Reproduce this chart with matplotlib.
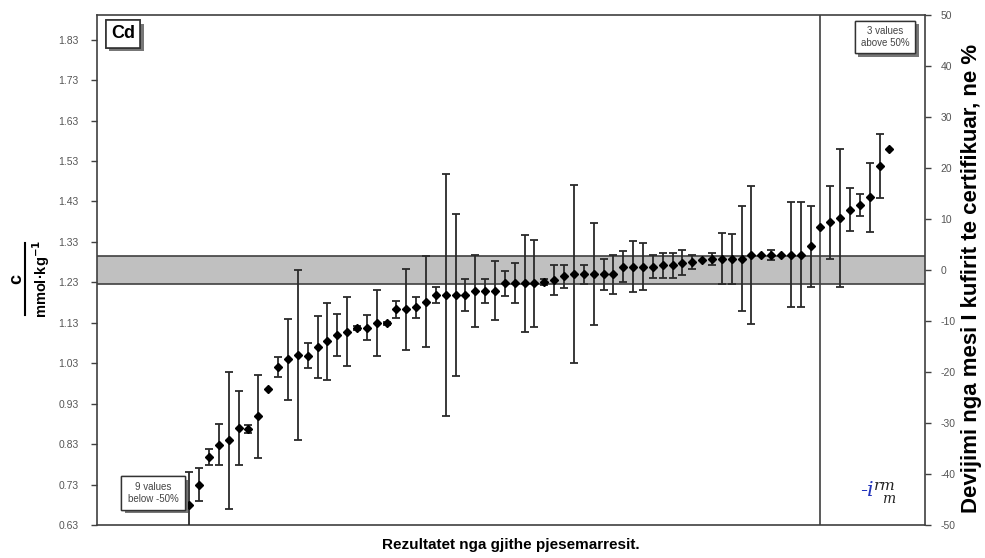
import numpy as np
import matplotlib
matplotlib.use("Agg")
import matplotlib.pyplot as plt
from matplotlib.lines import Line2D
import matplotlib.patheffects as pe

plt.rcParams['font.family'] = ['Liberation Sans', 'DejaVu Sans']

# ---- data ----
values = [0.679, 0.730, 0.799, 0.829, 0.839, 0.870, 0.868, 0.899, 0.967, 1.020,
          1.040, 1.050, 1.049, 1.071, 1.084, 1.099, 1.108, 1.116, 1.118, 1.129,
          1.129, 1.164, 1.164, 1.168, 1.182, 1.199, 1.199, 1.199, 1.199, 1.209,
          1.209, 1.209, 1.228, 1.228, 1.228, 1.228, 1.231, 1.236, 1.245, 1.250,
          1.250, 1.250, 1.250, 1.250, 1.269, 1.269, 1.269, 1.269, 1.272, 1.272,
          1.279, 1.280, 1.286, 1.288, 1.288, 1.288, 1.288, 1.298, 1.298, 1.298,
          1.298, 1.298, 1.298, 1.319, 1.368, 1.379, 1.389, 1.410, 1.421, 1.440,
          1.518, 1.561]
uncert = [0.081, 0.040, 0.020, 0.050, 0.170, 0.092, 0.010, 0.103, 0.0, 0.025,
          0.100, 0.210, 0.030, 0.077, 0.096, 0.052, 0.086, 0.005, 0.031, 0.081,
          0.004, 0.021, 0.100, 0.026, 0.112, 0.020, 0.300, 0.200, 0.040, 0.089,
          0.030, 0.073, 0.031, 0.050, 0.120, 0.108, 0.007, 0.036, 0.028, 0.220,
          0.024, 0.126, 0.039, 0.048, 0.039, 0.064, 0.059, 0.028, 0.030, 0.030,
          0.031, 0.017, 0.0, 0.014, 0.063, 0.061, 0.130, 0.170, 0.0, 0.012,
          0.0, 0.130, 0.130, 0.100, 0.0, 0.090, 0.170, 0.053, 0.028, 0.085,
          0.080, 0.0]
certified = 1.2612
band_low, band_high = 1.2265, 1.2958
left_ticks = [0.63, 0.73, 0.83, 0.93, 1.03, 1.13, 1.23, 1.33, 1.43, 1.53, 1.63, 1.73, 1.83]
right_ticks = [-50, -40, -30, -20, -10, 0, 10, 20, 30, 40, 50]
n_below, n_above = 9, 3
vline_index = 65

W, H = 985, 558
fig = plt.figure(figsize=(W / 100, H / 100), dpi=100)
ax = fig.add_axes([97 / W, 1 - 525 / H, (925 - 97) / W, (525 - 15) / H])

x = np.arange(1, len(values) + 1)
vals = np.array(values)
errs = np.array(uncert)

ax.set_xlim(0.5 - n_below + 0.14, len(values) + n_above + 0.6)
ymin = certified * 0.5
ymax = certified * 1.5
ax.set_ylim(0.63, 0.63 + (ymax - ymin))

# band
ax.axhspan(band_low, band_high, facecolor='#c0c0c0', edgecolor='none', zorder=1)
ax.axhline(band_low, color='#404040', lw=1.2, zorder=2)
ax.axhline(band_high, color='#404040', lw=1.2, zorder=2)
ax.axvline(vline_index, color='#404040', lw=1.2, zorder=2)

m = errs > 0
ax.errorbar(x[m], vals[m], yerr=errs[m], fmt='none', ecolor='#2a2a2a',
            elinewidth=1.3, capsize=3.2, capthick=1.3, zorder=3)
ax.plot(x, vals, 'D', color='black', ms=3.8, zorder=4)

ax.set_xticks([])
ax.set_yticks(left_ticks)
ax.set_yticklabels([f"{t:.2f}" for t in left_ticks])
ax.tick_params(axis='y', direction='out', length=4, width=1, color='#404040',
               labelsize=7.5, labelcolor='#555555', pad=9)
for s in ax.spines.values():
    s.set_color('#404040')
    s.set_linewidth(1.2)

ax2 = ax.twinx()
ax2.set_ylim(-50, 50)
ax2.set_yticks(right_ticks)
ax2.set_yticklabels([str(t) for t in right_ticks])
ax2.tick_params(axis='y', direction='out', length=4, width=1, color='#404040',
                labelsize=7.5, labelcolor='#555555', pad=7)
for s in ax2.spines.values():
    s.set_visible(False)

# boxes with shadows
shadow = [pe.withSimplePatchShadow(offset=(2.5, -2.5), shadow_rgbFace='#777777', alpha=1.0), pe.Normal()]
t = fig.text(111 / W, 1 - 34 / H, "Cd", fontsize=13, fontweight='bold', ha='left', va='center',
             bbox=dict(boxstyle='square,pad=0.3', fc='white', ec='#333333', lw=1.2))
t.get_bbox_patch().set_path_effects(shadow)
t = fig.text(885 / W, 1 - 37 / H, "3 values\nabove 50%", fontsize=7, color='#444444',
             ha='center', va='center', linespacing=1.15,
             bbox=dict(boxstyle='square,pad=0.6', fc='white', ec='#333333', lw=1.0))
t.get_bbox_patch().set_path_effects(shadow)
t = fig.text(153 / W, 1 - 493 / H, "9 values\nbelow -50%", fontsize=7, color='#444444',
             ha='center', va='center', linespacing=1.15,
             bbox=dict(boxstyle='square,pad=0.65', fc='white', ec='#333333', lw=1.0))
t.get_bbox_patch().set_path_effects(shadow)

# logo approximation
fig.text(867 / W, 1 - 490 / H, "-i", fontsize=15, color='#2233bb', family='DejaVu Serif',
         style='italic', ha='center', va='center')
fig.text(885 / W, 1 - 486 / H, "rm", fontsize=11, color='#222222', family='DejaVu Serif',
         style='italic', ha='center', va='center')
fig.text(889 / W, 1 - 499 / H, "m", fontsize=10, color='#222222', family='DejaVu Serif',
         style='italic', ha='center', va='center')

# left fraction label
fig.text(17 / W, 1 - 279 / H, "c", fontsize=13, fontweight='bold', rotation=90,
         ha='center', va='center')
fig.add_artist(Line2D([25 / W, 25 / W], [1 - 243 / H, 1 - 315 / H], color='black', lw=1.5))
fig.text(41 / W, 1 - 279 / H, "mmol·kg$^{\\mathbf{-1}}$", fontsize=10.5, fontweight='bold',
         rotation=90, ha='center', va='center')

# right label
fig.text(971 / W, 1 - 278 / H, "Devijimi nga mesi I kufirit te certifikuar, ne %", fontsize=16,
         fontweight='bold', rotation=90, ha='center', va='center')

# bottom label
fig.text(511 / W, 1 - 545 / H, "Rezultatet nga gjithe pjesemarresit.", fontsize=11,
         fontweight='bold', ha='center', va='center')

fig.savefig("out.png", dpi=100)
